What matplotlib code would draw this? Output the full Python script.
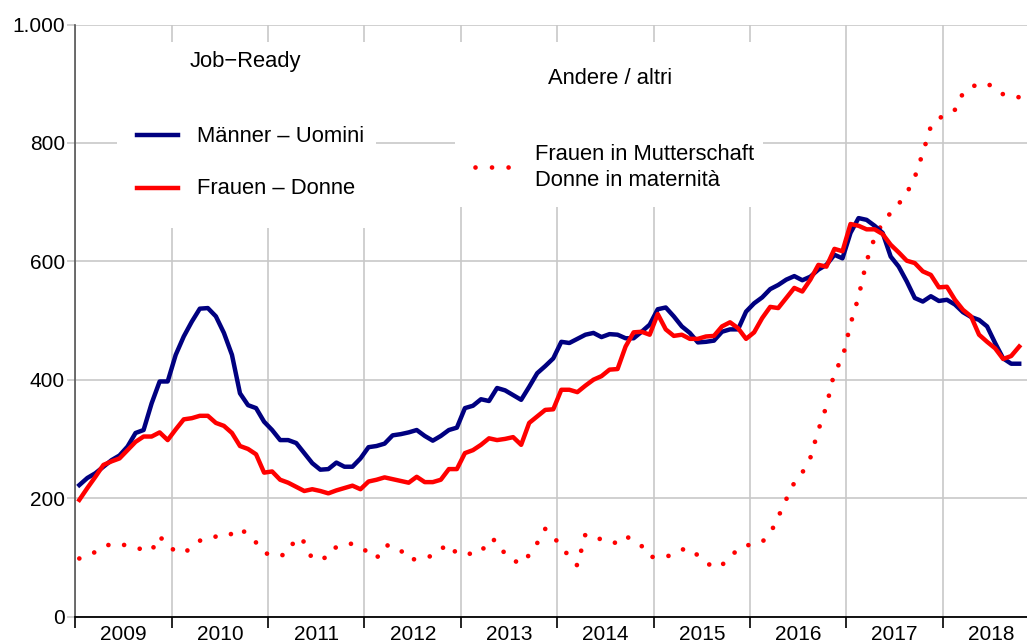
import numpy as np
import matplotlib
matplotlib.use("Agg")
from matplotlib import pyplot as plt
from matplotlib.patches import Rectangle
from matplotlib.lines import Line2D

plt.rcParams['font.family'] = ['Liberation Sans', 'DejaVu Sans']

# monthly values, Jan 2009 - Oct 2018
maenner = [222, 234, 242, 253, 264, 272, 287, 310, 315, 360, 397, 397, 442, 473, 498, 520,
           521, 507, 479, 442, 377, 357, 352, 329, 315, 298, 298, 293, 276, 259, 248, 249,
           260, 253, 253, 267, 286, 288, 292, 306, 308, 311, 315, 305, 297, 305, 315, 319,
           352, 356, 367, 364, 386, 382, 374, 366, 388, 411, 423, 436, 464, 462, 469,
           476, 479, 472, 477, 476, 470, 470, 481, 493, 519, 522, 507, 490, 479, 463, 464,
           466, 481, 485, 485, 515, 529, 539, 553, 560, 569,
           575, 568, 574, 586, 594, 611, 605, 648, 673, 670, 660, 648, 608, 591, 566, 538,
           532, 541, 533, 535, 527, 514, 506, 501, 490, 462, 436, 427, 427]
frauen = [197, 217, 236, 256, 262, 267, 281, 295, 304, 304, 311, 298, 316, 333, 335, 339,
          339, 327, 322, 310, 288, 283, 274, 243, 245, 231, 226, 219, 212, 215, 212, 208,
          213, 217, 221, 215, 228, 231, 235, 232, 229, 226, 236, 227, 227, 231, 249, 249,
          276, 281, 290, 301, 298, 300, 303, 290, 327, 338, 349, 350, 383, 383, 379,
          390, 400, 406, 417, 418, 456, 480, 481, 476, 511, 485, 474, 476, 469, 469, 473,
          474, 490, 497, 487, 469, 480, 504, 523, 521, 538,
          555, 549, 569, 594, 591, 621, 617, 663, 660, 654, 654, 646, 628, 615, 601, 597,
          583, 577, 556, 557, 535, 518, 507, 476, 464, 453, 435, 440, 456]
mutterschaft = [98, 103, 109, 117, 123, 122, 120, 116, 113, 111, 136, 118, 111, 107, 117, 128,
                133, 135, 134, 140, 149, 138, 125, 108, 103, 102, 108, 134, 126, 97, 98, 100,
                118, 122, 123, 117, 108, 98, 120, 120, 112, 96, 97, 99, 103, 114, 122, 106,
                106, 106, 108, 131, 128, 105, 95, 89, 104, 124, 148, 135, 118, 101, 86,
                139, 135, 130, 124, 125, 136, 128, 119, 101, 100, 101, 105, 113, 115, 103, 92,
                82, 87, 100, 114, 120, 122, 126, 140, 168, 198,
                226, 243, 268, 315, 355, 413, 436, 494, 540, 600, 640, 665, 682, 697, 715, 742,
                783, 828, 842, 847, 856, 884, 894, 900, 900, 893, 882, 880, 877]
years = list(range(2009, 2019))
yticks = [0, 200, 400, 600, 800, 1000]
ylabels = ['0', '200', '400', '600', '800', '1.000']

x = 2009 + (np.arange(len(maenner)) + 0.5) / 12

W, H = 1027, 642
fig = plt.figure(figsize=(W / 100, H / 100), dpi=100)
ax = fig.add_axes([75.3 / W, 1 - 616.5 / H, 1 - 75.3 / W, (616.5 - 24.5) / H])

grid = '#c8c8c8'
blue = '#000080'
red = '#ff0000'
dots = (0, (0.001, 3.4))

ax.plot(x, mutterschaft, color=red, lw=3.4, linestyle=dots,
        dash_capstyle='round', zorder=3)
ax.plot(x, maenner, color=blue, lw=3.2, zorder=4, solid_joinstyle='round')
ax.plot(x, frauen, color=red, lw=3.2, zorder=5, solid_joinstyle='round')

ax.set_xlim(2009, 2009 + (W - 75.3) / 96.4)
ax.set_ylim(0, 1000)
ax.set_yticks(yticks)
ax.set_yticklabels(ylabels)
ax.set_xticks(years)
ax.set_xticklabels([])
ax.set_xticks([y + 0.5 for y in years], minor=True)
ax.set_xticklabels([str(y) for y in years], minor=True)

ax.grid(True, which='major', color=grid, lw=1.2, zorder=0)
ax.set_axisbelow(True)
for s in ['top', 'right']:
    ax.spines[s].set_visible(False)
ax.spines['left'].set_color('#555555')
ax.spines['left'].set_linewidth(1.2)
ax.spines['bottom'].set_color('black')
ax.spines['bottom'].set_linewidth(1.3)
ax.spines['bottom'].set_zorder(6)

ax.tick_params(axis='y', length=6, width=1.2, color=grid, pad=1.5, labelsize=15)
ax.yaxis.get_major_ticks()[0].tick1line.set_color('black')
ax.tick_params(axis='x', which='major', length=8, width=1.2, color='black')
ax.tick_params(axis='x', which='minor', length=0, pad=6, labelsize=15)


def fx(px):
    return px / W


def fy(py):
    return 1 - py / H


# white legend boxes
for (x0, y0, x1, y1) in [(117, 42, 376, 228), (455, 42, 763, 207)]:
    fig.add_artist(Rectangle((fx(x0), fy(y1)), fx(x1) - fx(x0), fy(y0) - fy(y1),
                             transform=fig.transFigure, facecolor='white',
                             edgecolor='none', zorder=2))

fs = 15.8
fig.text(fx(190), fy(62), 'Job\u2212Ready', fontsize=fs, va='center', zorder=7)
fig.text(fx(548), fy(78), 'Andere / altri', fontsize=fs, va='center', zorder=7)

fig.add_artist(Line2D([fx(137), fx(178)], [fy(135), fy(135)], color=blue, lw=3.2,
                      transform=fig.transFigure, zorder=7))
fig.text(fx(197), fy(136), 'M\u00e4nner \u2013 Uomini', fontsize=fs, va='center', zorder=7)
fig.add_artist(Line2D([fx(137), fx(178)], [fy(188), fy(188)], color=red, lw=3.2,
                      transform=fig.transFigure, zorder=7))
fig.text(fx(197), fy(189), 'Frauen \u2013 Donne', fontsize=fs, va='center', zorder=7)

fig.add_artist(Line2D([fx(475), fx(509)], [fy(167), fy(167)], color=red, lw=3.4,
                      linestyle=(0, (0.001, 3.5)), dash_capstyle='round',
                      transform=fig.transFigure, zorder=7))
fig.text(fx(535), fy(155), 'Frauen in Mutterschaft', fontsize=fs, va='center', zorder=7)
fig.text(fx(535), fy(181), 'Donne in maternit\u00e0', fontsize=fs, va='center', zorder=7)

fig.savefig('out.png', dpi=100)
